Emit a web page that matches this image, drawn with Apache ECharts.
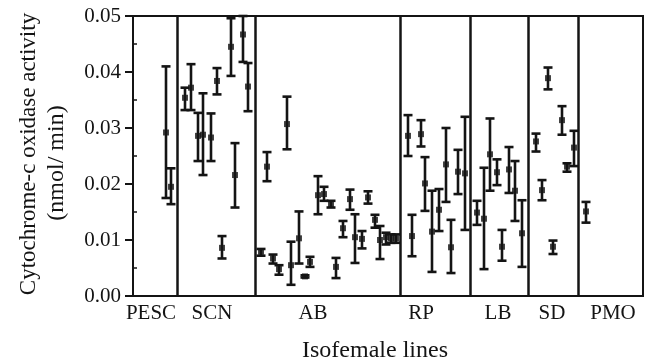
<!DOCTYPE html>
<html>
<head>
<meta charset="utf-8">
<script src="https://cdn.jsdelivr.net/npm/echarts@6/dist/echarts.min.js"></script>
<style>
  html, body { margin: 0; padding: 0; background: #fff; }
  #chart { width: 648px; height: 361px; }
</style>
</head>
<body>
<div id="chart"></div>
<script>
// population groups and where their names / boundaries sit along the x axis
const groupNames = ['PESC', 'SCN', 'AB', 'RP', 'LB', 'SD', 'PMO'];
const groupLabelPos = [1.8, 7.9, 18.0, 28.8, 36.5, 41.9, 48.0];
const dividerPos = [4.47, 12.2, 26.77, 33.7, 39.5, 44.5];

// one entry per isofemale line: position, mean, lower and upper end of the error bar
const linePos = [
  3.3, 3.8,
  5.2, 5.8, 6.5, 7.0, 7.8, 8.4, 8.9, 9.8, 10.2, 11.0, 11.5,
  12.8, 13.4, 14.0, 14.6, 15.4, 15.8, 16.6, 17.2, 17.7, 18.5, 19.1, 19.8,
  20.3, 21.0, 21.7, 22.2, 22.9, 23.5, 24.2, 24.7, 25.3, 25.8, 26.3,
  27.5, 27.9, 28.8, 29.2, 29.9, 30.6, 31.3, 31.8, 32.5, 33.2,
  34.4, 35.1, 35.7, 36.4, 36.9, 37.6, 38.2, 38.9,
  40.3, 40.9, 41.5, 42.0, 42.9, 43.4, 44.1,
  45.3
];
const lineMean = [
  0.0292, 0.0195,
  0.0354, 0.0372, 0.0286, 0.0288, 0.0283, 0.0384, 0.0086, 0.0445, 0.0216, 0.0467, 0.0374,
  0.0079, 0.0231, 0.0067, 0.0048, 0.0307, 0.0055, 0.0103, 0.0035, 0.0061, 0.0180, 0.0182, 0.0164,
  0.0052, 0.0121, 0.0173, 0.0105, 0.0102, 0.0176, 0.0136, 0.0100, 0.0105, 0.0103, 0.0103,
  0.0286, 0.0107, 0.0289, 0.0201, 0.0115, 0.0154, 0.0235, 0.0087, 0.0222, 0.0219,
  0.0149, 0.0138, 0.0253, 0.0221, 0.0088, 0.0226, 0.0188, 0.0112,
  0.0276, 0.0189, 0.0389, 0.0088, 0.0314, 0.0231, 0.0265,
  0.0151
];
const lineLow = [
  0.0175, 0.0164,
  0.0332, 0.0332, 0.0241, 0.0216, 0.0241, 0.0360, 0.0067, 0.0393, 0.0158, 0.0418, 0.0330,
  0.0072, 0.0205, 0.0058, 0.0038, 0.0262, 0.0020, 0.0058, 0.0033, 0.0052, 0.0146, 0.0170, 0.0158,
  0.0032, 0.0105, 0.0154, 0.0059, 0.0085, 0.0165, 0.0122, 0.0066, 0.0092, 0.0095, 0.0095,
  0.0250, 0.0071, 0.0267, 0.0152, 0.0043, 0.0116, 0.0168, 0.0041, 0.0182, 0.0118,
  0.0127, 0.0048, 0.0188, 0.0198, 0.0063, 0.0184, 0.0134, 0.0052,
  0.0258, 0.0171, 0.0369, 0.0075, 0.0288, 0.0222, 0.0232,
  0.0131
];
const lineHigh = [
  0.0410, 0.0228,
  0.0372, 0.0414, 0.0327, 0.0362, 0.0326, 0.0407, 0.0107, 0.0496, 0.0273, 0.0500, 0.0416,
  0.0084, 0.0257, 0.0074, 0.0055, 0.0356, 0.0097, 0.0151, 0.0037, 0.0070, 0.0214, 0.0195, 0.0170,
  0.0068, 0.0134, 0.0190, 0.0146, 0.0116, 0.0187, 0.0145, 0.0125, 0.0113, 0.0110, 0.0110,
  0.0323, 0.0145, 0.0314, 0.0248, 0.0188, 0.0191, 0.0300, 0.0136, 0.0261, 0.0320,
  0.0170, 0.0229, 0.0317, 0.0244, 0.0118, 0.0266, 0.0241, 0.0171,
  0.0290, 0.0207, 0.0408, 0.0099, 0.0339, 0.0237, 0.0295,
  0.0168
];

const ink = '#141414';
const serif = '"Liberation Serif", "DejaVu Serif", serif';

const barData = linePos.map((x, i) => [x, lineMean[i], lineLow[i], lineHigh[i]]);
const meanData = linePos.map((x, i) => [x, lineMean[i]]);

const chart = echarts.init(document.getElementById('chart'));

const option = {
  animation: false,
  backgroundColor: '#fff',
  grid: {
    left: 133,
    top: 16,
    width: 510,
    height: 280,
    outerBoundsMode: 'none',
    containLabel: false,
    show: true,
    borderColor: ink,
    borderWidth: 2,
    backgroundColor: 'transparent'
  },
  xAxis: {
    type: 'value',
    min: 0,
    max: 51,
    name: 'Isofemale lines',
    nameLocation: 'middle',
    nameGap: 43,
    nameTextStyle: { fontFamily: serif, fontSize: 24, color: ink, padding: [0, 26, 0, 0] },
    axisLine: { show: true, lineStyle: { color: ink, width: 2 } },
    axisTick: { show: false },
    splitLine: { show: false },
    axisLabel: {
      customValues: groupLabelPos,
      margin: 7,
      fontFamily: serif,
      fontSize: 21,
      color: ink,
      formatter: (v) => {
        const i = groupLabelPos.indexOf(v);
        return i >= 0 ? groupNames[i] : '';
      }
    }
  },
  yAxis: [
    {
      type: 'value',
      min: 0,
      max: 0.05,
      interval: 0.01,
      axisLine: { show: true, lineStyle: { color: ink, width: 2 } },
      axisTick: { show: true, length: 8, lineStyle: { color: ink, width: 2 } },
      splitLine: { show: false },
      axisLabel: {
        margin: 12,
        fontFamily: serif,
        fontSize: 21,
        color: ink,
        formatter: (v) => v.toFixed(2)
      }
    },
    {
      // minor ticks pointing into the plot
      type: 'value',
      position: 'left',
      min: 0,
      max: 0.05,
      axisLine: { show: false },
      axisLabel: { show: false },
      splitLine: { show: false },
      axisTick: {
        show: true,
        inside: true,
        length: 4,
        customValues: [0.005, 0.015, 0.025, 0.035, 0.045],
        lineStyle: { color: ink, width: 1.5 }
      }
    }
  ],
  graphic: [
    {
      type: 'text',
      x: 29,
      y: 154,
      rotation: Math.PI / 2,
      style: {
        text: 'Cytochrome-c oxidase activity',
        font: '23px ' + serif,
        fill: ink,
        align: 'center',
        verticalAlign: 'middle'
      }
    },
    {
      type: 'text',
      x: 57,
      y: 163,
      rotation: Math.PI / 2,
      style: {
        text: '(nmol/ min)',
        font: '24px ' + serif,
        fill: ink,
        align: 'center',
        verticalAlign: 'middle'
      }
    }
  ],
  series: [
    {
      type: 'custom',
      name: 'error',
      data: barData,
      encode: { x: 0, y: [1, 2, 3] },
      z: 3,
      renderItem: (params, api) => {
        const x = api.value(0);
        const lo = api.coord([x, api.value(2)]);
        const hi = api.coord([x, api.value(3)]);
        const cap = 4.5;
        const style = { stroke: ink, lineWidth: 2.6, fill: null };
        return {
          type: 'group',
          children: [
            { type: 'line', shape: { x1: lo[0], y1: lo[1], x2: hi[0], y2: hi[1] }, style },
            { type: 'line', shape: { x1: lo[0] - cap, y1: lo[1], x2: lo[0] + cap, y2: lo[1] }, style },
            { type: 'line', shape: { x1: hi[0] - cap, y1: hi[1], x2: hi[0] + cap, y2: hi[1] }, style }
          ]
        };
      }
    },
    {
      type: 'scatter',
      name: 'mean',
      data: meanData,
      symbol: 'rect',
      symbolSize: 6,
      itemStyle: { color: ink },
      z: 4,
      markLine: {
        silent: true,
        symbol: 'none',
        label: { show: false },
        lineStyle: { type: 'solid', color: ink, width: 2.5 },
        data: dividerPos.map(v => ({ xAxis: v }))
      }
    }
  ]
};

chart.setOption(option);
</script>
</body>
</html>
